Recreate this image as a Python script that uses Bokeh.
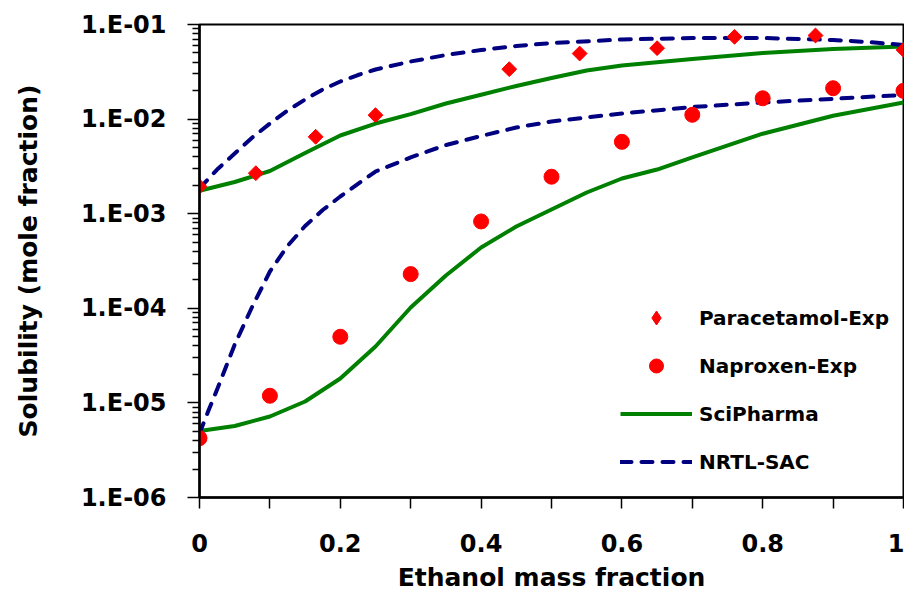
import math
from bokeh.plotting import figure
from bokeh.models import (FixedTicker, CustomJSTickFormatter, Legend, LegendItem, Range1d)
from bokeh.embed import file_html
from bokeh.resources import INLINE

# ---------------- data ----------------
# Experimental solubility, paracetamol
para_x = [0.0, 0.08, 0.165, 0.25, 0.44, 0.54, 0.65, 0.76, 0.875, 1.0]
para_y = [1.94e-3, 2.68e-3, 6.5e-3, 1.10e-2, 3.37e-2, 4.93e-2, 5.62e-2, 7.41e-2, 7.65e-2, 5.39e-2]

# Experimental solubility, naproxen
napr_x = [0.0, 0.1, 0.2, 0.3, 0.4, 0.5, 0.6, 0.7, 0.8, 0.9, 1.0]
napr_y = [4.24e-6, 1.19e-5, 5.0e-5, 2.3e-4, 8.28e-4, 2.46e-3, 5.75e-3, 1.11e-2, 1.66e-2, 2.12e-2, 1.99e-2]

# SciPharma model, paracetamol
sci_para_x = [0.0, 0.05, 0.1, 0.15, 0.2, 0.25, 0.3, 0.35, 0.4, 0.45, 0.5, 0.55, 0.6, 0.7, 0.8, 0.9, 1.0]
sci_para_y = [1.746e-3, 2.163e-3, 2.827e-3, 4.38e-3, 6.71e-3, 8.98e-3, 1.129e-2, 1.462e-2, 1.811e-2,
              2.239e-2, 2.72e-2, 3.264e-2, 3.695e-2, 4.318e-2, 4.996e-2, 5.508e-2, 5.853e-2]

# SciPharma model, naproxen
sci_napr_x = [0.0, 0.05, 0.1, 0.15, 0.2, 0.25, 0.3, 0.35, 0.4, 0.45, 0.5, 0.55, 0.6,
              0.65, 0.7, 0.8, 0.9, 1.0]
sci_napr_y = [5.05e-6, 5.70e-6, 7.18e-6, 1.035e-5, 1.811e-5, 3.946e-5, 1.020e-4,
              2.222e-4, 4.393e-4, 7.32e-4, 1.107e-3, 1.675e-3, 2.355e-3, 2.93e-3, 3.93e-3,
              7.01e-3, 1.086e-2, 1.498e-2]

# NRTL-SAC model, paracetamol
nrtl_para_x = [0.0, 0.025, 0.05, 0.075, 0.1, 0.125, 0.15, 0.175, 0.2, 0.225, 0.25, 0.3, 0.35,
               0.4, 0.45, 0.5, 0.6, 0.7, 0.8, 0.9, 0.95, 1.0]
nrtl_para_y = [1.846e-3, 2.93e-3, 4.33e-3, 6.39e-3, 8.98e-3, 1.233e-2, 1.611e-2, 2.056e-2, 2.496e-2,
               2.925e-2, 3.344e-2, 4.063e-2, 4.759e-2, 5.375e-2, 5.925e-2, 6.373e-2, 6.94e-2,
               7.20e-2, 7.20e-2, 6.86e-2, 6.53e-2, 6.07e-2]

# NRTL-SAC model, naproxen
nrtl_napr_x = [0.0, 0.0125, 0.025, 0.05, 0.075, 0.1, 0.125, 0.15, 0.175, 0.2, 0.25, 0.3, 0.35,
               0.4, 0.45, 0.5, 0.6, 0.7, 0.8, 0.9, 1.0]
nrtl_napr_y = [4.75e-6, 8.21e-6, 1.385e-5, 4.14e-5, 1.045e-4, 2.449e-4, 4.556e-4, 7.41e-4, 1.094e-3,
               1.520e-3, 2.792e-3, 3.937e-3, 5.32e-3, 6.63e-3, 8.15e-3, 9.43e-3, 1.146e-2,
               1.342e-2, 1.498e-2, 1.639e-2, 1.798e-2]

# axis ticks
x_major = [0.0, 0.2, 0.4, 0.6, 0.8, 1.0]
x_minor = [0.1, 0.3, 0.5, 0.7, 0.9]
y_exponents = [-6, -5, -4, -3, -2, -1]

# ---------------- figure ----------------
FONT = "DejaVu Sans"
RED = "#FF0000"
GREEN = "#008000"
NAVY = "#000080"

p = figure(width=904, height=594, output_backend="svg", toolbar_location=None,
           x_range=Range1d(0, 1), y_range=Range1d(1e-6, 1e-1), y_axis_type="log",
           min_border_left=199, min_border_right=1, min_border_top=24, min_border_bottom=97)
p.xgrid.visible = False
p.ygrid.visible = False
p.outline_line_color = "black"
p.outline_line_width = 2
p.background_fill_color = "white"
p.border_fill_color = "white"

# curves
r_sci1 = p.line(sci_para_x, sci_para_y, line_color=GREEN, line_width=4, line_join="round")
r_sci2 = p.line(sci_napr_x, sci_napr_y, line_color=GREEN, line_width=4, line_join="round")
r_nrtl1 = p.line(nrtl_para_x, nrtl_para_y, line_color=NAVY, line_width=4, line_dash="11 10",
                 line_cap="round", line_join="round")
r_nrtl2 = p.line(nrtl_napr_x, nrtl_napr_y, line_color=NAVY, line_width=4, line_dash="11 10",
                 line_cap="round", line_join="round")

# experimental points
# diamond-marker twin of the paracetamol points: fully covered by the rotated squares
# below, it only supplies the legend symbol
r_para_key = p.scatter(para_x, para_y, marker="diamond", size=13, fill_color=RED, line_color=RED)
r_para = p.scatter(para_x, para_y, marker="square", angle=math.pi / 4, size=10.5,
                   fill_color=RED, line_color=RED)
r_napr = p.scatter(napr_x, napr_y, marker="circle", size=15, fill_color=RED, line_color=RED)

# x axis
xa = p.xaxis[0]
xa.ticker = FixedTicker(ticks=x_major, minor_ticks=x_minor)
xa.formatter = CustomJSTickFormatter(code="return String(Math.round(tick*10)/10);")
xa.axis_label = "Ethanol mass fraction"
xa.axis_line_width = 2.5
xa.major_tick_in = 0
xa.major_tick_out = 11
xa.minor_tick_in = 0
xa.minor_tick_out = 11
xa.major_tick_line_width = 1.5
xa.minor_tick_line_width = 1.5
xa.major_label_text_font = FONT
xa.major_label_text_font_size = "24px"
xa.major_label_text_font_style = "bold"
xa.major_label_text_color = "black"
xa.major_label_standoff = 25
xa.axis_label_text_font = FONT
xa.axis_label_text_font_size = "25px"
xa.axis_label_text_font_style = "bold"
xa.axis_label_text_color = "black"
xa.axis_label_standoff = 8

# y axis
ya = p.yaxis[0]
y_major = [10.0 ** e for e in y_exponents]
y_minor = [k * 10.0 ** e for e in y_exponents[:-1] for k in range(2, 10)]
ya.ticker = FixedTicker(ticks=y_major, minor_ticks=y_minor)
ya.formatter = CustomJSTickFormatter(code="""
const e = Math.round(Math.log10(tick));
const a = Math.abs(e);
return "1.E" + (e < 0 ? "-" : "+") + (a < 10 ? "0" : "") + a;
""")
ya.axis_label = "Solubility (mole fraction)"
ya.axis_line_width = 2.5
ya.major_tick_in = 0
ya.major_tick_out = 12
ya.minor_tick_in = 0
ya.minor_tick_out = 7
ya.major_tick_line_width = 1.5
ya.minor_tick_line_width = 1.5
ya.major_label_text_font = FONT
ya.major_label_text_font_size = "24px"
ya.major_label_text_font_style = "bold"
ya.major_label_text_color = "black"
ya.major_label_standoff = 21
ya.axis_label_text_font = FONT
ya.axis_label_text_font_size = "25px"
ya.axis_label_text_font_style = "bold"
ya.axis_label_text_color = "black"
ya.axis_label_standoff = 35

# legend
legend = Legend(items=[
    LegendItem(label="Paracetamol-Exp", renderers=[r_para_key]),
    LegendItem(label="Naproxen-Exp", renderers=[r_napr]),
    LegendItem(label="SciPharma", renderers=[r_sci1]),
    LegendItem(label="NRTL-SAC", renderers=[r_nrtl1]),
], location=(421, 18), orientation="vertical")
legend.glyph_width = 72
legend.glyph_height = 35
legend.label_height = 35
legend.spacing = 13
legend.padding = 0
legend.margin = 0
legend.label_standoff = 7
legend.border_line_color = None
legend.background_fill_alpha = 0
legend.label_text_font = FONT
legend.label_text_font_size = "20px"
legend.label_text_font_style = "bold"
legend.label_text_color = "black"
p.add_layout(legend)

open("out.html", "w").write(file_html(p, INLINE))
